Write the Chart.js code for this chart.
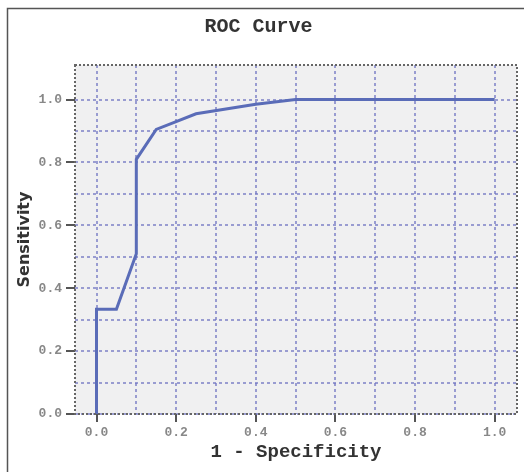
<!DOCTYPE html>
<html>
<head>
<meta charset="utf-8">
<script src="https://cdn.jsdelivr.net/npm/chart.js@4"></script>
<style>
  html, body { margin: 0; padding: 0; background: #fff; }
  canvas { display: block; }
</style>
</head>
<body>
<canvas id="roc" width="524" height="472"></canvas>
<script>
// 1 - specificity / sensitivity
const fpr = [0, 0, 0.05, 0.1, 0.1, 0.15, 0.2, 0.25, 0.4, 0.5, 1.0];
const tpr = [0, 0.333, 0.333, 0.51, 0.81, 0.905, 0.93, 0.955, 0.985, 1.0, 1.0];
// grid every 0.1, labels every 0.2
const gridSteps = [0, 0.1, 0.2, 0.3, 0.4, 0.5, 0.6, 0.7, 0.8, 0.9, 1.0];
const tickLabels = ['0.0', '', '0.2', '', '0.4', '', '0.6', '', '0.8', '', '1.0'];

const mono = 'Liberation Mono, Courier New, monospace';
const gridBlue = 'rgba(115,120,195,0.7)';

// plot background, dotted frame and the outer picture border
const framePlugin = {
  id: 'frame',
  beforeDraw(chart) {
    const { ctx, chartArea: a } = chart;
    ctx.save();
    ctx.fillStyle = '#f0f0f1';
    ctx.fillRect(a.left, a.top, a.right - a.left, a.bottom - a.top);
    ctx.strokeStyle = '#555';
    ctx.lineWidth = 1.5;
    ctx.beginPath();
    ctx.moveTo(7.5, 472);
    ctx.lineTo(7.5, 8.5);
    ctx.lineTo(524, 8.5);
    ctx.stroke();
    ctx.restore();
  },
  afterDatasetsDraw(chart) {
    const { ctx, chartArea: a } = chart;
    ctx.save();
    ctx.strokeStyle = '#666';
    ctx.lineWidth = 2;
    ctx.setLineDash([2, 2]);
    ctx.strokeRect(a.left, a.top, a.right - a.left, a.bottom - a.top);
    ctx.restore();
  }
};

const setTicks = scale => { scale.ticks = gridSteps.map(v => ({ value: v })); };

new Chart(document.getElementById('roc').getContext('2d'), {
  type: 'line',
  data: {
    datasets: [{
      data: fpr.map((x, i) => ({ x: x, y: tpr[i] })),
      borderColor: '#5a6cb8',
      borderWidth: 3,
      pointRadius: 0,
      tension: 0,
      fill: false
    }]
  },
  options: {
    responsive: false,
    animation: false,
    layout: { padding: { left: 0, right: 7, top: 0, bottom: 0 } },
    plugins: {
      legend: { display: false },
      tooltip: { enabled: false },
      title: {
        display: true,
        text: 'ROC Curve',
        color: '#333',
        font: { family: mono, size: 20, weight: 'bold' },
        padding: { top: 15, bottom: 26 }
      }
    },
    scales: {
      x: {
        type: 'linear',
        min: -0.054,
        max: 1.056,
        afterBuildTicks: setTicks,
        afterFit: s => { s.height = 58; },
        grid: {
          color: gridBlue,
          lineWidth: 2,
          tickLength: 8,
          tickColor: c => (tickLabels[c.index] ? '#555' : 'rgba(0,0,0,0)'),
          tickWidth: 2,
          tickBorderDash: []
        },
        border: { display: false, dash: [3, 3] },
        ticks: {
          autoSkip: false,
          maxRotation: 0,
          padding: 3,
          color: '#888',
          font: { family: mono, size: 13, weight: 'bold' },
          callback: (v, i) => tickLabels[i]
        },
        title: {
          display: true,
          text: '1 - Specificity',
          color: '#333',
          font: { family: mono, size: 19, weight: 'bold' },
          padding: { top: 0, bottom: 8 }
        }
      },
      y: {
        type: 'linear',
        min: 0,
        max: 1.11,
        afterBuildTicks: setTicks,
        afterFit: s => { s.width = 75; },
        grid: {
          color: gridBlue,
          lineWidth: 2,
          tickLength: 9,
          tickColor: c => (tickLabels[c.index] ? '#555' : 'rgba(0,0,0,0)'),
          tickWidth: 2,
          tickBorderDash: []
        },
        border: { display: false, dash: [3, 3] },
        ticks: {
          autoSkip: false,
          padding: 4,
          color: '#888',
          font: { family: mono, size: 13, weight: 'bold' },
          callback: (v, i) => tickLabels[i]
        },
        title: {
          display: true,
          text: 'Sensitivity',
          color: '#333',
          font: { family: 'DejaVu Sans', size: 16, weight: 'bold' },
          padding: { top: 15, bottom: 0 }
        }
      }
    }
  },
  plugins: [framePlugin]
});
</script>
</body>
</html>
